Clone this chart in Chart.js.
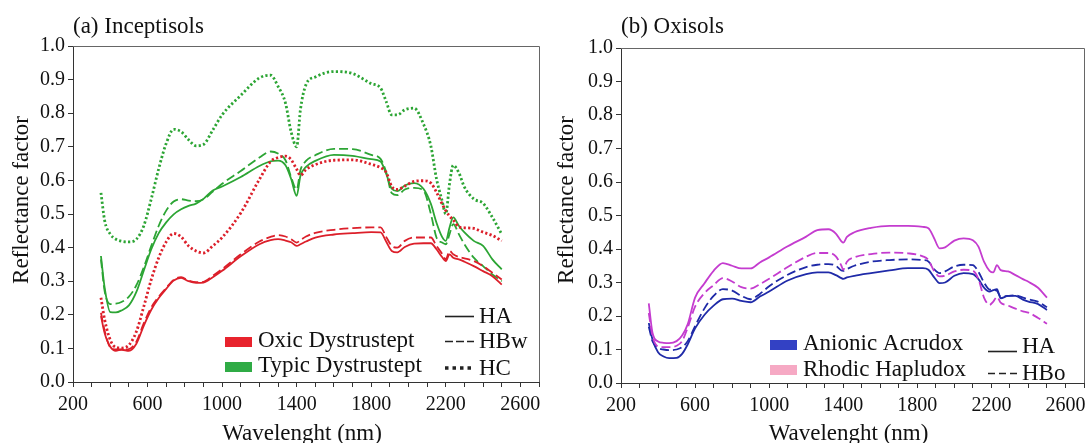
<!DOCTYPE html>
<html>
<head>
<meta charset="utf-8">
<script src="https://cdn.jsdelivr.net/npm/chart.js@4.4.1/dist/chart.umd.min.js"></script>
<style>
  body { margin: 0; background: #fff; }
  canvas { position: absolute; top: 0; }
</style>
</head>
<body>
<canvas id="inceptisols" width="545" height="443" style="left:0"></canvas>
<canvas id="oxisols" width="545" height="443" style="left:545px"></canvas>
<script>
// wavelengths (nm) sampled for panel (a)
const wlInc = [350, 370, 400, 430, 460, 500, 540, 580, 620, 660, 700, 740, 780, 820, 860, 900, 950, 1000, 1100, 1200,
  1260, 1300, 1340, 1370, 1400, 1420, 1450, 1500, 1600, 1700, 1800, 1850, 1880, 1910, 1940, 1980, 2030, 2080, 2120, 2150,
  2180, 2200, 2220, 2240, 2270, 2300, 2350, 2400, 2450, 2500];

const oxicHA = [0.196, 0.145, 0.105, 0.093, 0.096, 0.093, 0.114, 0.168, 0.215, 0.25, 0.277, 0.302, 0.31, 0.3, 0.295, 0.296, 0.312, 0.331, 0.374, 0.41,
  0.422, 0.425, 0.421, 0.416, 0.405, 0.41, 0.418, 0.43, 0.439, 0.443, 0.446, 0.445, 0.418, 0.39, 0.386, 0.402, 0.412, 0.413, 0.413, 0.395,
  0.372, 0.36, 0.38, 0.37, 0.365, 0.358, 0.345, 0.33, 0.315, 0.29];
const oxicHBw = [0.206, 0.152, 0.103, 0.097, 0.097, 0.098, 0.12, 0.175, 0.222, 0.254, 0.28, 0.304, 0.312, 0.302, 0.297, 0.298, 0.316, 0.336, 0.38, 0.418,
  0.432, 0.437, 0.433, 0.425, 0.415, 0.422, 0.433, 0.444, 0.453, 0.458, 0.46, 0.46, 0.432, 0.405, 0.4, 0.42, 0.43, 0.43, 0.43, 0.405,
  0.382, 0.365, 0.39, 0.38, 0.372, 0.368, 0.36, 0.345, 0.325, 0.305];
const oxicHC = [0.251, 0.185, 0.125, 0.103, 0.101, 0.11, 0.15, 0.225, 0.305, 0.37, 0.417, 0.442, 0.432, 0.405, 0.39, 0.384, 0.405, 0.43, 0.503, 0.603,
  0.656, 0.668, 0.672, 0.662, 0.633, 0.615, 0.632, 0.647, 0.66, 0.661, 0.648, 0.638, 0.624, 0.582, 0.573, 0.583, 0.597, 0.599, 0.592, 0.565,
  0.53, 0.51, 0.494, 0.482, 0.462, 0.459, 0.457, 0.446, 0.436, 0.42];
const typicHA = [0.375, 0.28, 0.208, 0.207, 0.213, 0.228, 0.268, 0.332, 0.395, 0.443, 0.475, 0.499, 0.514, 0.524, 0.531, 0.545, 0.57, 0.582, 0.61, 0.643,
  0.657, 0.659, 0.645, 0.605, 0.554, 0.613, 0.64, 0.658, 0.676, 0.673, 0.663, 0.656, 0.62, 0.575, 0.568, 0.585, 0.592, 0.575, 0.53, 0.474,
  0.432, 0.42, 0.46, 0.49, 0.465, 0.445, 0.42, 0.405, 0.365, 0.335];
const typicHBw = [0.365, 0.27, 0.232, 0.233, 0.238, 0.254, 0.288, 0.342, 0.405, 0.465, 0.51, 0.537, 0.544, 0.54, 0.538, 0.544, 0.567, 0.59, 0.628, 0.668,
  0.686, 0.68, 0.66, 0.61, 0.573, 0.63, 0.658, 0.675, 0.694, 0.693, 0.676, 0.664, 0.625, 0.562, 0.556, 0.573, 0.578, 0.57, 0.5, 0.43,
  0.415, 0.41, 0.44, 0.47, 0.44, 0.41, 0.37, 0.345, 0.32, 0.3];
const typicHC = [0.563, 0.48, 0.44, 0.425, 0.419, 0.417, 0.425, 0.465, 0.545, 0.635, 0.71, 0.752, 0.745, 0.721, 0.703, 0.707, 0.75, 0.795, 0.853, 0.905,
  0.913, 0.88, 0.83, 0.745, 0.7, 0.81, 0.885, 0.908, 0.924, 0.918, 0.888, 0.875, 0.835, 0.795, 0.795, 0.81, 0.815, 0.768, 0.702, 0.605,
  0.54, 0.5, 0.59, 0.645, 0.623, 0.58, 0.545, 0.532, 0.49, 0.44];

// wavelengths (nm) sampled for panel (b)
const wlOxi = [350, 370, 400, 430, 460, 500, 530, 560, 600, 650, 700, 750, 800, 850, 900, 950, 1000, 1100, 1200, 1260,
  1320, 1360, 1390, 1400, 1420, 1460, 1550, 1650, 1750, 1830, 1860, 1890, 1920, 1950, 2000, 2050, 2100, 2130, 2160, 2190,
  2210, 2230, 2250, 2290, 2330, 2370, 2400, 2450, 2500];

const anionicHA = [0.179, 0.13, 0.092, 0.079, 0.074, 0.075, 0.087, 0.115, 0.163, 0.203, 0.231, 0.25, 0.252, 0.245, 0.241, 0.258, 0.273, 0.306, 0.325, 0.33,
  0.33, 0.322, 0.313, 0.311, 0.315, 0.32, 0.328, 0.336, 0.343, 0.343, 0.338, 0.316, 0.298, 0.3, 0.32, 0.328, 0.325, 0.31, 0.285, 0.273,
  0.277, 0.28, 0.253, 0.26, 0.26, 0.249, 0.243, 0.236, 0.218];
const anionicHBo = [0.168, 0.125, 0.105, 0.1, 0.098, 0.1, 0.107, 0.125, 0.17, 0.222, 0.26, 0.28, 0.276, 0.26, 0.25, 0.266, 0.289, 0.323, 0.346, 0.353,
  0.355, 0.35, 0.336, 0.335, 0.34, 0.35, 0.362, 0.367, 0.369, 0.367, 0.363, 0.34, 0.328, 0.333, 0.348, 0.353, 0.352, 0.332, 0.3, 0.279,
  0.278, 0.275, 0.258, 0.26, 0.262, 0.255, 0.25, 0.243, 0.226];
const rhodicHA = [0.238, 0.15, 0.124, 0.12, 0.119, 0.125, 0.142, 0.175, 0.255, 0.297, 0.335, 0.358, 0.35, 0.342, 0.342, 0.36, 0.375, 0.408, 0.437, 0.456,
  0.459, 0.446, 0.423, 0.419, 0.436, 0.45, 0.463, 0.469, 0.469, 0.466, 0.462, 0.433, 0.402, 0.405, 0.425, 0.432, 0.426, 0.407, 0.362, 0.335,
  0.33, 0.352, 0.337, 0.333, 0.322, 0.31, 0.302, 0.285, 0.255];
const rhodicHBo = [0.209, 0.14, 0.109, 0.107, 0.107, 0.111, 0.125, 0.165, 0.228, 0.268, 0.292, 0.313, 0.303, 0.286, 0.282, 0.295, 0.311, 0.346, 0.377, 0.388,
  0.388, 0.378, 0.35, 0.338, 0.362, 0.375, 0.385, 0.389, 0.387, 0.378, 0.367, 0.335, 0.318, 0.32, 0.333, 0.338, 0.335, 0.31, 0.255, 0.233,
  0.243, 0.257, 0.24, 0.231, 0.222, 0.214, 0.21, 0.195, 0.177];

const RED = "#dc1f2a", GREEN = "#2ca534", BLUE = "#1f2aa8", MAGENTA = "#c43ccf";
const FONT = '"Liberation Serif", "Times New Roman", serif';

const styles = {
  solid: { borderDash: [], borderWidth: 1.8 },
  dashed: { borderDash: [9, 4], borderWidth: 1.8 },
  dotted: { borderDash: [2.2, 2.3], borderWidth: 2.8 },
};

function series(wl, values, color, style) {
  return {
    data: wl.map((x, i) => ({ x: x, y: values[i] })),
    borderColor: color,
    ...styles[style],
    pointRadius: 0,
    cubicInterpolationMode: "monotone",
    fill: false,
  };
}

// frame, panel title, axis titles and the two-part legend
const panelDecor = {
  id: "panelDecor",
  afterDraw(chart, args, o) {
    const ctx = chart.ctx, a = chart.chartArea;
    ctx.save();
    ctx.strokeStyle = "#666";
    ctx.lineWidth = 1;
    ctx.setLineDash([]);
    ctx.beginPath();
    ctx.moveTo(a.left, Math.round(a.top) + 0.5);
    ctx.lineTo(Math.round(a.right) + 0.5, Math.round(a.top) + 0.5);
    ctx.lineTo(Math.round(a.right) + 0.5, a.bottom);
    ctx.stroke();

    ctx.fillStyle = "#111";
    ctx.font = "23px " + FONT;
    ctx.textBaseline = "alphabetic";
    ctx.textAlign = "left";
    ctx.fillText(o.title, a.left, 33);

    ctx.textAlign = "center";
    ctx.fillText("Wavelenght (nm)", (a.left + a.right) / 2 - 4, 440);
    ctx.save();
    ctx.translate(28, 200);
    ctx.rotate(-Math.PI / 2);
    ctx.fillText("Reflectance factor", 0, 0);
    ctx.restore();

    ctx.textAlign = "left";
    o.swatches.forEach(s => {
      ctx.fillStyle = s.color;
      ctx.fillRect(s.x, s.y, 27, 10);
      ctx.fillStyle = "#111";
      ctx.fillText(s.label, s.x + 33, s.base);
    });
    o.keys.forEach(k => {
      ctx.strokeStyle = "#222";
      ctx.lineWidth = k.width;
      ctx.setLineDash(k.dash);
      ctx.beginPath();
      ctx.moveTo(k.x, k.lineY);
      ctx.lineTo(k.x + 29, k.lineY);
      ctx.stroke();
      ctx.fillStyle = "#111";
      ctx.fillText(k.label, k.x + 34, k.base);
    });
    ctx.restore();
  },
};

function makeConfig(datasets, decor, axisLeft, padRight, padTop, xHeight) {
  return {
    type: "line",
    data: { datasets: datasets },
    options: {
      responsive: false,
      animation: false,
      devicePixelRatio: 1,
      layout: { padding: { left: 0, right: padRight, top: padTop, bottom: 0 } },
      plugins: { legend: { display: false }, tooltip: { enabled: false }, panelDecor: decor },
      scales: {
        x: {
          type: "linear",
          min: 200,
          max: 2700,
          afterFit: s => { s.height = xHeight; },
          grid: { drawOnChartArea: false, tickLength: 5, tickColor: "#333" },
          border: { color: "#333", width: 1 },
          ticks: {
            stepSize: 100,
            autoSkip: false,
            maxRotation: 0,
            padding: 6,
            color: "#111",
            font: { family: FONT, size: 20 },
            callback: v => ((v - 200) % 400 === 0 && v <= 2600 ? String(v) : ""),
          },
        },
        y: {
          min: 0,
          max: 1,
          afterFit: s => { s.width = axisLeft; },
          grid: { drawOnChartArea: false, tickLength: 5, tickColor: "#333" },
          border: { color: "#333", width: 1 },
          ticks: {
            stepSize: 0.1,
            padding: 3,
            color: "#111",
            font: { family: FONT, size: 20 },
            callback: v => v.toFixed(1),
          },
        },
      },
    },
    plugins: [panelDecor],
  };
}

new Chart(document.getElementById("inceptisols"), makeConfig([
  series(wlInc, oxicHA, RED, "solid"),
  series(wlInc, oxicHBw, RED, "dashed"),
  series(wlInc, oxicHC, RED, "dotted"),
  series(wlInc, typicHA, GREEN, "solid"),
  series(wlInc, typicHBw, GREEN, "dashed"),
  series(wlInc, typicHC, GREEN, "dotted"),
], {
  title: "(a) Inceptisols",
  swatches: [
    { label: "Oxic Dystrustept", color: "#e8232d", x: 225, y: 337, base: 346.5 },
    { label: "Typic Dystrustept", color: "#2fab45", x: 225, y: 362, base: 371.5 },
  ],
  keys: [
    { label: "HA", dash: [], width: 1.6, x: 445, lineY: 316.5, base: 323 },
    { label: "HBw", dash: [8, 3], width: 1.6, x: 445, lineY: 341.5, base: 348 },
    { label: "HC", dash: [3.5, 4], width: 3.5, x: 445, lineY: 368, base: 375 },
  ],
}, 73, 5, 46, 61));

new Chart(document.getElementById("oxisols"), makeConfig([
  series(wlOxi, rhodicHA, MAGENTA, "solid"),
  series(wlOxi, rhodicHBo, MAGENTA, "dashed"),
  series(wlOxi, anionicHA, BLUE, "solid"),
  series(wlOxi, anionicHBo, BLUE, "dashed"),
], {
  title: "(b) Oxisols",
  swatches: [
    { label: "Anionic Acrudox", color: "#3341c4", x: 225, y: 340, base: 350 },
    { label: "Rhodic Hapludox", color: "#f6a9c4", x: 225, y: 365, base: 376 },
  ],
  keys: [
    { label: "HA", dash: [], width: 1.6, x: 443, lineY: 351.5, base: 353 },
    { label: "HBo", dash: [7, 4], width: 1.6, x: 443, lineY: 373.5, base: 380 },
  ],
}, 76, 4, 48, 60));
</script>
</body>
</html>
